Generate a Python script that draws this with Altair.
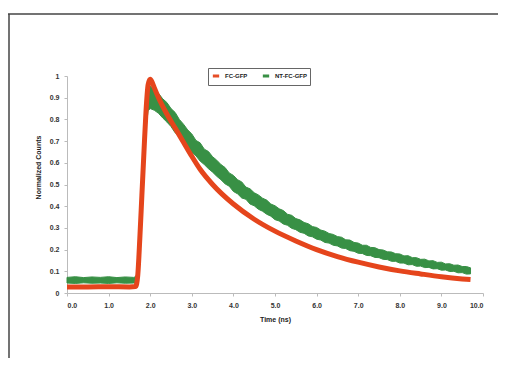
import altair as alt
import pandas as pd

# ---- data ----
series_names = ["FC-GFP", "NT-FC-GFP"]
series_colors = ["#e5451c", "#2e8b3c"]

# FC-GFP (red, smooth)
red_t = [0.0, 0.5, 1.0, 1.5, 1.65, 1.7, 1.75, 1.8, 1.85, 1.9, 1.95, 2.0, 2.05, 2.1,
         2.2, 2.4, 2.6, 2.8, 3.0, 3.2, 3.5, 4.0, 4.5, 5.0, 5.5, 6.0, 6.5, 7.0,
         7.5, 8.0, 8.5, 9.0, 9.5, 9.7]
red_v = [0.028, 0.028, 0.029, 0.028, 0.03, 0.08, 0.25, 0.45, 0.65, 0.84, 0.96, 0.985, 0.97, 0.945,
         0.90, 0.825, 0.76, 0.695, 0.63, 0.57, 0.50, 0.41, 0.34, 0.285, 0.24, 0.20, 0.168, 0.142,
         0.12, 0.102, 0.088, 0.075, 0.065, 0.062]

# NT-FC-GFP (green, noisy band: upper / lower envelope)
green_t = [0.0, 0.2, 0.4, 0.6, 0.8, 1.0, 1.2, 1.4, 1.6, 1.65, 1.7, 1.75, 1.8, 1.85, 1.9, 1.95,
           2.0, 2.1, 2.2, 2.3, 2.4, 2.5, 2.6, 2.7, 2.8, 2.9, 3.0, 3.1, 3.2, 3.3, 3.4, 3.5,
           3.6, 3.7, 3.8, 3.9, 4.0, 4.1, 4.2, 4.3, 4.4, 4.5, 4.6, 4.7, 4.8, 4.9, 5.0,
           5.1, 5.2, 5.3, 5.4, 5.5, 5.6, 5.7, 5.8, 5.9, 6.0, 6.1, 6.2, 6.3, 6.4, 6.5,
           6.6, 6.7, 6.8, 6.9, 7.0, 7.1, 7.2, 7.3, 7.4, 7.5, 7.6, 7.7, 7.8, 7.9, 8.0,
           8.1, 8.2, 8.3, 8.4, 8.5, 8.6, 8.7, 8.8, 8.9, 9.0, 9.1, 9.2, 9.3, 9.4, 9.5,
           9.6, 9.7]
green_hi = [0.072, 0.075, 0.071, 0.074, 0.072, 0.075, 0.071, 0.074, 0.072, 0.075, 0.10, 0.27, 0.45, 0.65, 0.84, 0.93,
            0.955, 0.935, 0.92, 0.895, 0.878, 0.85, 0.832, 0.80, 0.778, 0.752, 0.733, 0.703, 0.692, 0.663, 0.652, 0.628,
            0.612, 0.592, 0.578, 0.553, 0.542, 0.522, 0.512, 0.488, 0.48, 0.462, 0.452, 0.437, 0.428, 0.41, 0.402,
            0.388, 0.38, 0.363, 0.358, 0.343, 0.337, 0.325, 0.319, 0.306, 0.302, 0.29, 0.285, 0.274, 0.27, 0.26,
            0.257, 0.245, 0.244, 0.233, 0.23, 0.22, 0.22, 0.21, 0.209, 0.2, 0.198, 0.19, 0.189, 0.181, 0.18,
            0.171, 0.172, 0.163, 0.163, 0.155, 0.156, 0.148, 0.149, 0.141, 0.142, 0.134, 0.135, 0.128, 0.129, 0.122,
            0.122, 0.116]
green_lo = [0.046, 0.044, 0.047, 0.045, 0.046, 0.044, 0.047, 0.045, 0.046, 0.045, 0.07, 0.23, 0.41, 0.59, 0.76, 0.84,
            0.85, 0.842, 0.828, 0.807, 0.788, 0.767, 0.738, 0.722, 0.693, 0.677, 0.648, 0.632, 0.608, 0.592, 0.573, 0.557,
            0.538, 0.522, 0.503, 0.492, 0.468, 0.457, 0.438, 0.432, 0.41, 0.402, 0.386, 0.377, 0.363, 0.354, 0.338,
            0.332, 0.318, 0.312, 0.298, 0.292, 0.28, 0.275, 0.263, 0.259, 0.248, 0.244, 0.233, 0.23, 0.22, 0.217,
            0.207, 0.205, 0.195, 0.192, 0.183, 0.182, 0.173, 0.172, 0.164, 0.163, 0.155, 0.154, 0.146, 0.146, 0.138,
            0.138, 0.13, 0.131, 0.123, 0.124, 0.117, 0.118, 0.111, 0.112, 0.105, 0.106, 0.099, 0.1, 0.093, 0.094,
            0.087, 0.088]

x_ticks = [0, 1, 2, 3, 4, 5, 6, 7, 8, 9, 10]
y_ticks = [0, 0.1, 0.2, 0.3, 0.4, 0.5, 0.6, 0.7, 0.8, 0.9, 1.0]

red_df = pd.DataFrame({"t": red_t, "v": red_v, "series": series_names[0]})
green_df = pd.DataFrame({"t": green_t, "hi": green_hi, "lo": green_lo, "series": series_names[1]})

FONT = "Liberation Sans"

color = alt.Color(
    "series:N",
    scale=alt.Scale(domain=series_names, range=series_colors),
    legend=alt.Legend(
        title=None, orient="none", legendX=141, legendY=-8, direction="horizontal",
        strokeColor="#666", fillColor="white", padding=3,
        labelFontSize=6, labelFont=FONT, labelFontWeight="bold", labelColor="#222",
        symbolType="stroke", symbolSize=40, symbolStrokeWidth=3, columnPadding=8,
    ),
)

x_axis = alt.Axis(values=x_ticks, format=".1f", title="Time (ns)", grid=False, labelOverlap=False,
                  labelFontSize=7, labelFontWeight="bold", labelColor="#333", labelFont=FONT,
                  titleFontSize=7, titleFontWeight="bold", titleColor="#222", titleFont=FONT,
                  domainColor="#bbb", tickColor="#bbb", tickSize=3, labelPadding=5, titlePadding=7)
y_axis = alt.Axis(values=y_ticks, format="~g", title="Normalized Counts", grid=False, labelOverlap=False,
                  labelFontSize=7, labelFontWeight="bold", labelColor="#333", labelFont=FONT,
                  titleFontSize=7, titleFontWeight="bold", titleColor="#222", titleFont=FONT,
                  titleX=-29, titleY=91, titleAngle=-90, titleAlign="center", titleBaseline="middle",
                  domainColor="#bbb", tickColor="#bbb", tickSize=3, labelPadding=5)
x_scale = alt.Scale(domain=[0, 10], nice=False)
y_scale = alt.Scale(domain=[0, 1], nice=False)

green = alt.Chart(green_df).mark_area(opacity=0.95, stroke="#2e8b3c", strokeWidth=1).encode(
    x=alt.X("t:Q", scale=x_scale, axis=x_axis),
    y=alt.Y("hi:Q", scale=y_scale, axis=y_axis),
    y2="lo:Q",
    color=color,
)

red = alt.Chart(red_df).mark_line(strokeWidth=5, interpolate="monotone").encode(
    x=alt.X("t:Q", scale=x_scale, axis=x_axis),
    y=alt.Y("v:Q", scale=y_scale, axis=y_axis),
    color=color,
)

one = pd.DataFrame({"k": [0]})
frame_left = alt.Chart(one).mark_rule(color="#444", strokeWidth=1.5).encode(
    x=alt.value(-58), y=alt.value(-62), y2=alt.value(282))
frame_top = alt.Chart(one).mark_rule(color="#444", strokeWidth=1.5).encode(
    x=alt.value(-59), x2=alt.value(431), y=alt.value(-62))

chart = alt.layer(green, red, frame_left, frame_top).properties(
    width=416, height=217,
    autosize=alt.AutoSizeParams(type="none"),
    padding={"left": 59, "top": 68, "right": 15, "bottom": 65},
    background="white",
).configure_view(stroke=None)

chart.save("out.html", embed_options={"renderer": "svg", "actions": False})
